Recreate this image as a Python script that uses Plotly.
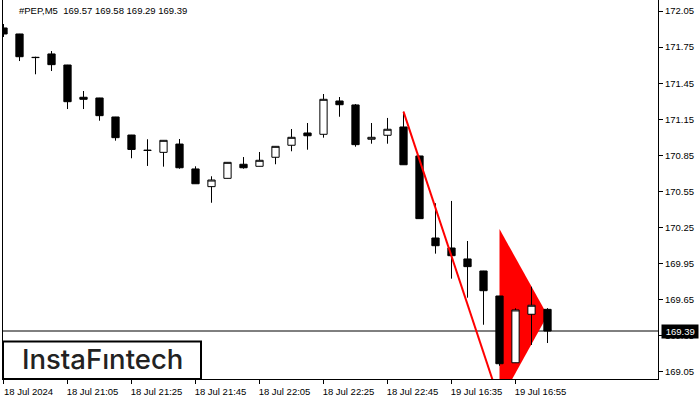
import plotly.graph_objects as go

symbol = "#PEP,M5"
bar_index = list(range(35))
opens = [171.909, 171.859, 171.665, 171.693, 171.601, 171.333, 171.327, 171.169, 171.019, 170.893,
         170.875, 170.944, 170.737, 170.590, 170.659, 170.776, 170.759, 170.834, 170.934, 171.036,
         171.025, 171.302, 171.269, 170.984, 171.017, 171.086, 170.845, 170.163, 170.080, 169.989,
         169.889, 169.681, 169.126, 169.529, 169.57]
highs = [171.942, 171.860, 171.670, 171.717, 171.602, 171.385, 171.328, 171.170, 171.020, 170.984,
         170.976, 170.986, 170.759, 170.676, 170.793, 170.836, 170.878, 170.926, 171.069, 171.119,
         171.360, 171.335, 171.277, 171.119, 171.161, 171.213, 170.846, 170.452, 170.471, 170.138,
         169.890, 169.682, 169.579, 169.758, 169.58]
lows = [171.834, 171.634, 171.524, 171.551, 171.235, 171.235, 171.138, 170.972, 170.826, 170.762,
        170.756, 170.739, 170.613, 170.456, 170.658, 170.739, 170.758, 170.776, 170.884, 170.897,
        170.997, 171.171, 170.922, 170.947, 170.947, 170.771, 170.323, 170.033, 169.825, 169.667,
        169.442, 169.101, 169.125, 169.274, 169.29]
closes = [171.859, 171.670, 171.663, 171.604, 171.296, 171.316, 171.180, 170.997, 170.899, 170.891,
          170.975, 170.747, 170.614, 170.645, 170.792, 170.747, 170.809, 170.925, 171.000, 171.013,
          171.316, 171.271, 170.939, 171.000, 171.067, 170.772, 170.324, 170.099, 170.016, 169.925,
          169.725, 169.118, 169.565, 169.604, 169.39]

x_tick_idx = [0, 4, 8, 12, 16, 20, 24, 28, 32]
x_tick_labels = ["18 Jul 2024", "18 Jul 21:05", "18 Jul 21:25", "18 Jul 21:45", "18 Jul 22:05",
                 "18 Jul 22:25", "18 Jul 22:45", "19 Jul 16:35", "19 Jul 16:55"]
y_ticks = [169.05, 169.35, 169.65, 169.95, 170.25, 170.55, 170.85, 171.15, 171.45, 171.75, 172.05]
y_tick_labels = ["169.05", "169.35", "169.65", "169.95", "170.25", "170.55", "170.85",
                 "171.15", "171.45", "171.75", "172.05"]
current_price = 169.39

pole_x = [25, 31]
pole_y = [171.213, 168.81]
pennant_x = [31, 34, 31]
pennant_y = [170.238, 169.52, 168.80]

FONT = "Liberation Sans"

fig = go.Figure()
fig.add_trace(go.Candlestick(
    x=bar_index, open=opens, high=highs, low=lows, close=closes,
    whiskerwidth=0,
    increasing=dict(fillcolor="white", line=dict(color="black", width=1)),
    decreasing=dict(fillcolor="black", line=dict(color="black", width=1)),
    showlegend=False, hoverinfo="skip",
))
fig.add_trace(go.Scatter(
    x=pole_x, y=pole_y, mode="lines",
    line=dict(color="#ff0000", width=2), showlegend=False, hoverinfo="skip",
))

path = "M {},{} L {},{} L {},{} Z".format(pennant_x[0], pennant_y[0], pennant_x[1], pennant_y[1],
                                         pennant_x[2], pennant_y[2])
fig.add_shape(type="path", path=path, xref="x", yref="y", fillcolor="#ff0000",
              line=dict(width=0), layer="below")
fig.add_shape(type="line", xref="paper", yref="y", x0=0, x1=1, y0=current_price, y1=current_price,
              line=dict(color="black", width=1), layer="below")

# logo box
fig.add_shape(type="rect", xref="paper", yref="paper", x0=0, x1=0.3023, y0=0, y1=0.099,
              fillcolor="white", line=dict(color="black", width=2), layer="above")
fig.add_annotation(text="InstaF\u0131ntech", xref="paper", yref="paper", x=0.152, y=0.052,
                   showarrow=False, xanchor="center", yanchor="middle",
                   font=dict(family="Inter", size=27.5, color="#222222", weight=500))

title = "{}  {:.2f} {:.2f} {:.2f} {:.2f}".format(symbol, opens[-1], highs[-1], lows[-1], closes[-1])
fig.add_annotation(text=title, xref="paper", yref="paper", x=0.0215, y=0.971,
                   showarrow=False, xanchor="left", yanchor="middle",
                   font=dict(family=FONT, size=9.5, color="black"))

fig.add_annotation(text=" {:.2f} ".format(current_price), xref="paper", yref="y", x=1,
                   y=current_price, xshift=3, showarrow=False, xanchor="left", yanchor="middle",
                   bgcolor="black", borderpad=1, font=dict(family=FONT, size=9.5, color="white"))

fig.update_layout(
    width=700, height=400,
    margin=dict(l=3, r=42, t=0, b=21, autoexpand=False),
    paper_bgcolor="white", plot_bgcolor="white",
    boxgap=0.35,
    showlegend=False,
    font=dict(family=FONT, size=9.5, color="black"),
    xaxis=dict(
        range=[-0.031, 40.906], rangeslider=dict(visible=False),
        tickmode="array", tickvals=x_tick_idx, ticktext=x_tick_labels,
        ticks="outside", ticklen=4, tickcolor="black", tickwidth=1,
        ticklabelshift=25, ticklabelstandoff=0,
        showgrid=False, zeroline=False,
        showline=True, linecolor="black", linewidth=1, mirror=True,
        tickfont=dict(family=FONT, size=9.5, color="black"),
    ),
    yaxis=dict(
        range=[168.991, 172.1414], side="right",
        tickmode="array", tickvals=y_ticks, ticktext=y_tick_labels,
        ticks="outside", ticklen=4, tickcolor="black", tickwidth=1,
        showgrid=False, zeroline=False,
        showline=True, linecolor="black", linewidth=1, mirror=True,
        tickfont=dict(family=FONT, size=9.5, color="black"),
    ),
)

fig.write_html("out.html", config={"displayModeBar": False, "staticPlot": True},
               post_script="document.body.style.margin='0';document.body.style.overflow='hidden';")
